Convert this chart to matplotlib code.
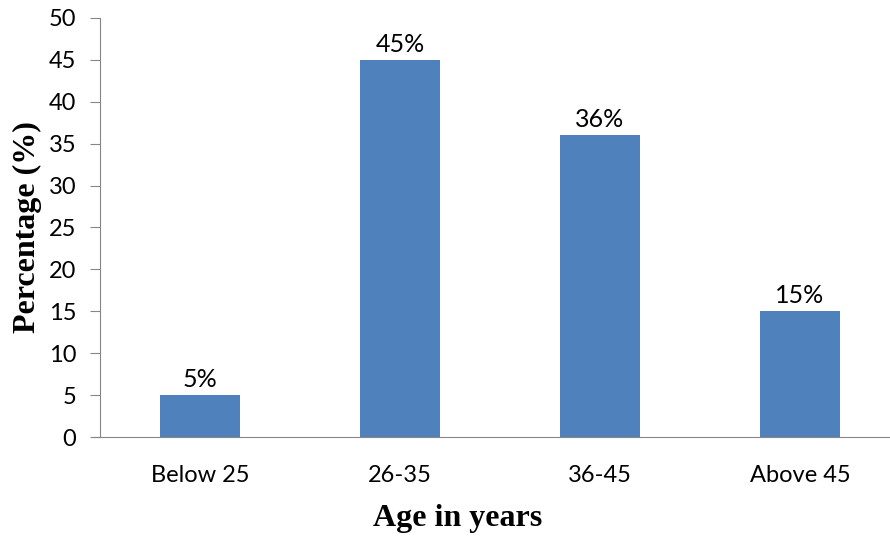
"""Bar chart of respondents by age group
"""

#%% Imports
import matplotlib
matplotlib.use('Agg')
import matplotlib.pyplot as plt
import numpy as np

#%% Data
age_groups = ['Below 25', '26-35', '36-45', 'Above 45']
percentages = [5, 45, 36, 15]
y_ticks = [0, 5, 10, 15, 20, 25, 30, 35, 40, 45, 50]

#%% Plot
bar_color = '#4F81BD'
spine_color = '#868686'
tick_font = 'Lato'

fig = plt.figure(figsize=(8.9, 5.36), dpi=100)
ax = fig.add_axes([100/890, 1 - 437/536, 1 - 100/890, (437 - 18)/536])

x = np.arange(len(age_groups))
ax.bar(x, percentages, width=0.4, color=bar_color, zorder=2)

# value labels above bars
for xi, v in zip(x, percentages):
    ax.text(xi, v + 0.5, '{}%'.format(v), ha='center', va='bottom',
            fontsize=18, family=tick_font)

ax.set_xlim(-0.5, 3.45)
ax.set_ylim(0, 50)
ax.set_yticks(y_ticks)
ax.set_xticks(x)
ax.set_xticklabels(age_groups, family=tick_font, fontsize=17)
for lbl in ax.get_yticklabels():
    lbl.set_family(tick_font)
    lbl.set_fontsize(17)

ax.spines['top'].set_visible(False)
ax.spines['right'].set_visible(False)
ax.spines['left'].set_color(spine_color)
ax.spines['bottom'].set_color(spine_color)
ax.spines['bottom'].set_bounds(-0.5 - 7/200, 3.45)
ax.tick_params(axis='y', length=7, color=spine_color, pad=10)
ax.tick_params(axis='x', length=0, pad=20)

# x label sits left of the axes centre in the original, so place it on the figure
fig.text(458/890, 1 - 526/536, 'Age in years', ha='center', va='baseline',
         family='Liberation Serif', fontweight='bold', fontsize=23)
ax.set_ylabel('Percentage (%)', family='Liberation Serif', fontweight='bold',
              fontsize=23, labelpad=5)

fig.savefig('out.png', dpi=100)
